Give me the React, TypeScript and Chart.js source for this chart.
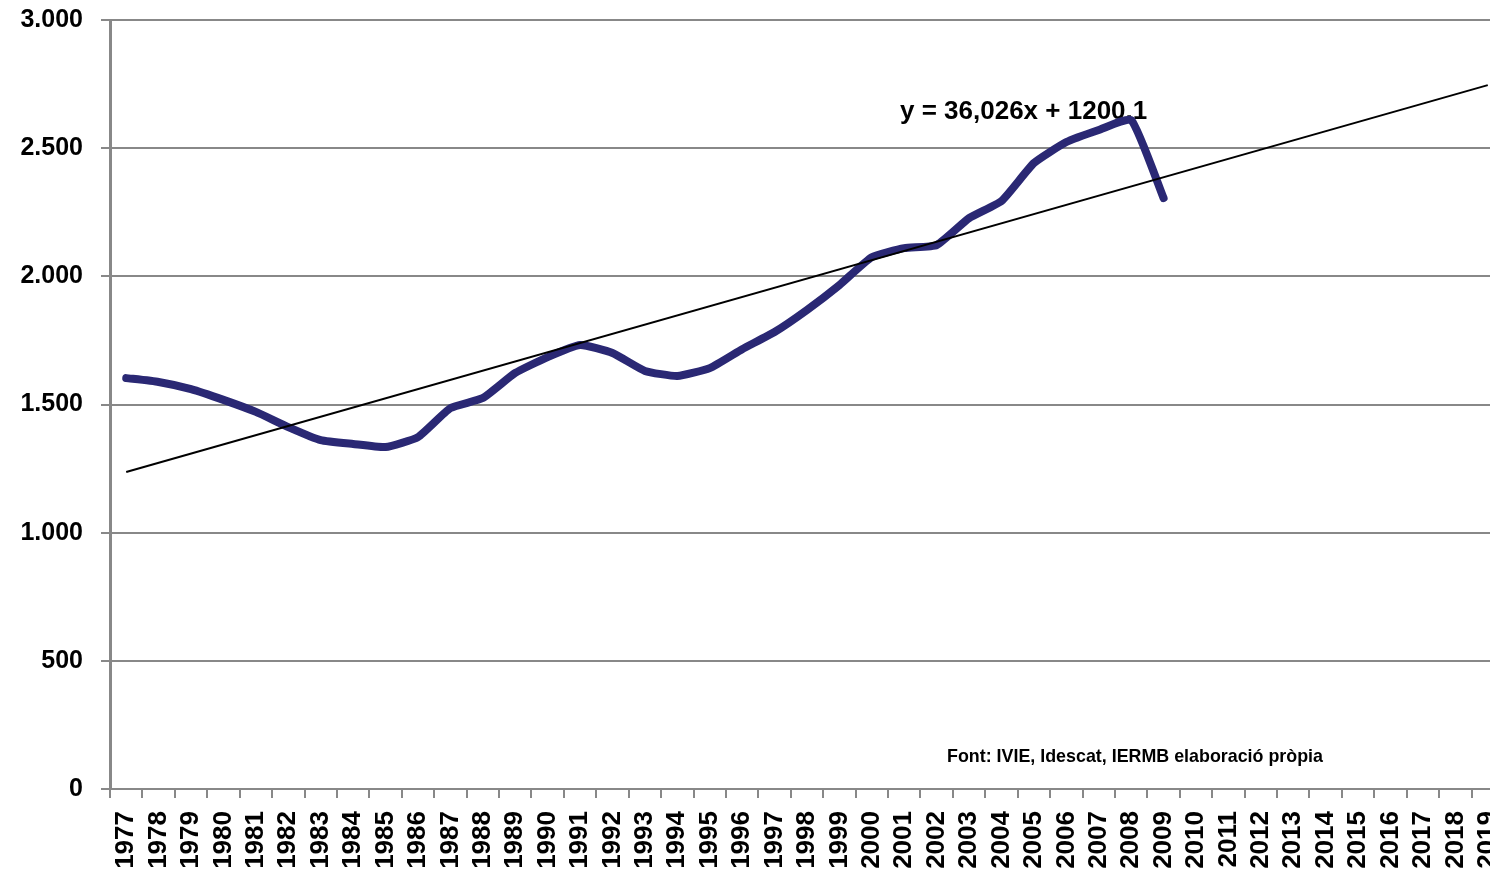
import React, { useEffect, useRef } from "react";
import { Chart, registerables } from "chart.js";

Chart.register(...registerables);

const years: string[] = [
  "1977","1978","1979","1980","1981","1982","1983","1984","1985","1986",
  "1987","1988","1989","1990","1991","1992","1993","1994","1995","1996",
  "1997","1998","1999","2000","2001","2002","2003","2004","2005","2006",
  "2007","2008","2009","2010","2011","2012","2013","2014","2015","2016",
  "2017","2018","2019",
];

const seriesValues: (number | null)[] = [
  1603, 1588, 1560, 1518, 1471, 1412, 1361, 1346, 1334, 1373,
  1486, 1525, 1623, 1685, 1732, 1701, 1631, 1611, 1642, 1716,
  1783, 1869, 1966, 2075, 2110, 2122, 2227, 2294, 2442, 2524,
  2571, 2610, 2305,
];

// trend line end points (first and last category)
const trendStart = 1237;
const trendEnd = 2746;

const yTicks: number[] = [0, 500, 1000, 1500, 2000, 2500, 3000];

const equationText = "y = 36,026x + 1200,1";
const sourceText = "Font: IVIE, Idescat, IERMB elaboració pròpia";

const GRID = "#888888";
const LINE = "#2A2874";
const FONT = "Arial, 'Liberation Sans', sans-serif";

function fmt(v: number): string {
  return String(Math.round(v)).replace(/\B(?=(\d{3})+(?!\d))/g, ".");
}

const textPlugin = {
  id: "annot",
  beforeDatasetsDraw(chart: any) {
    const { ctx, chartArea } = chart;
    ctx.save();
    ctx.fillStyle = "#000";
    ctx.textAlign = "left";
    ctx.textBaseline = "middle";
    ctx.font = `bold 26px ${FONT}`;
    ctx.fillText(equationText, chartArea.left + 790, chartArea.top + 92, 252);
    ctx.font = `bold 19px 'Liberation Sans Narrow', ${FONT}`;
    ctx.fillText(sourceText, chartArea.left + 837, chartArea.top + 737, 376);
    ctx.restore();
  },
};

export default function App() {
  const ref = useRef<HTMLCanvasElement | null>(null);

  useEffect(() => {
    if (!ref.current) return;
    const trend = years.map((_, i) =>
      i === 0 ? trendStart : i === years.length - 1 ? trendEnd : null
    );
    const chart = new Chart(ref.current, {
      type: "line",
      data: {
        labels: years,
        datasets: [
          {
            label: "Tendència",
            data: trend,
            borderColor: "#000",
            borderWidth: 2,
            pointRadius: 0,
            spanGaps: true,
            tension: 0,
          },
          {
            label: "Sèrie",
            data: seriesValues,
            borderColor: LINE,
            borderWidth: 8,
            pointRadius: 0,
            tension: 0.15,
            borderCapStyle: "round",
            borderJoinStyle: "round",
          },
        ],
      },
      options: {
        responsive: false,
        animation: false,
        layout: { padding: { left: 0, right: 6, top: 20, bottom: 0 } },
        plugins: {
          legend: { display: false },
          tooltip: { enabled: false },
        },
        scales: {
          x: {
            type: "category",
            offset: true,
            grid: {
              offset: true,
              drawOnChartArea: false,
              drawTicks: true,
              tickLength: 9,
              color: GRID,
              lineWidth: 2,
            },
            border: { color: GRID, width: 2 },
            ticks: {
              autoSkip: false,
              minRotation: 90,
              maxRotation: 90,
              padding: 13,
              color: "#000",
              font: { family: FONT, size: 26, weight: "bold" },
            },
            afterFit(scale: any) {
              scale.height = 86;
              scale.paddingLeft = 0;
              scale.paddingRight = 0;
            },
          },
          y: {
            min: 0,
            max: 3000,
            afterBuildTicks(scale: any) {
              scale.ticks = yTicks.map((v) => ({ value: v }));
            },
            grid: {
              color: GRID,
              lineWidth: 2,
              drawTicks: true,
              tickLength: 9,
            },
            border: { color: GRID, width: 3 },
            ticks: {
              padding: 18,
              color: "#000",
              font: { family: FONT, size: 25, weight: "bold" },
              callback: (v: any) => fmt(Number(v)),
            },
            afterFit(scale: any) {
              scale.width = 110;
              scale.paddingTop = 0;
              scale.paddingBottom = 0;
            },
          },
        },
      },
      plugins: [textPlugin],
    });
    return () => chart.destroy();
  }, []);

  return (
    <div
      style={{
        position: "absolute",
        left: 0,
        top: 0,
        width: 1490,
        height: 875,
        overflow: "hidden",
        background: "#fff",
      }}
    >
      <canvas ref={ref} width={1510} height={875} style={{ display: "block" }} />
    </div>
  );
}
